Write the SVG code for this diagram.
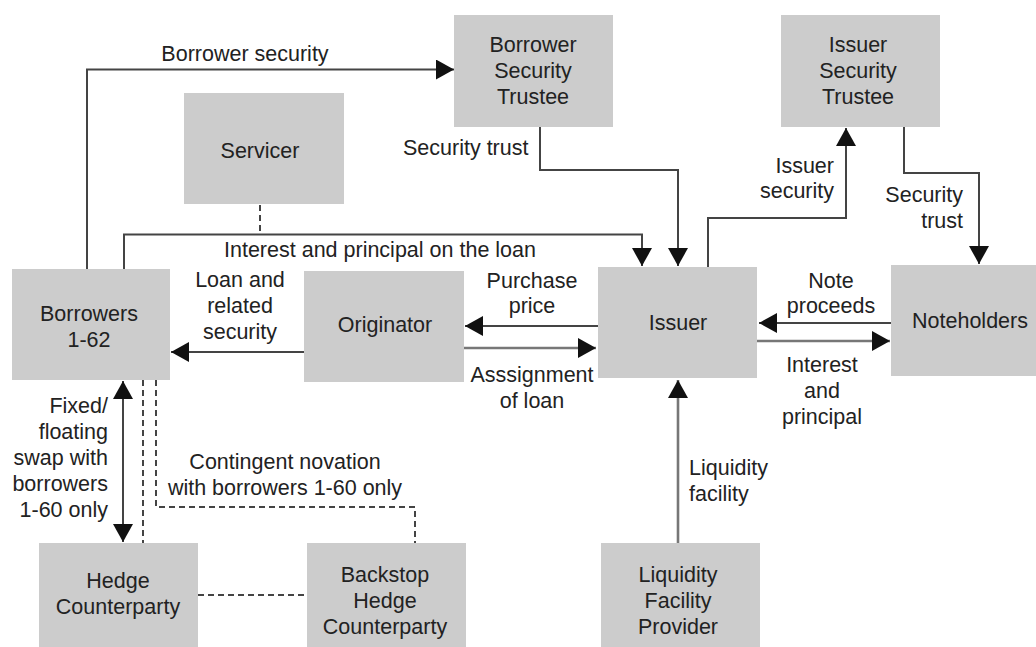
<svg xmlns="http://www.w3.org/2000/svg" width="1036" height="647" viewBox="0 0 1036 647">
<defs>
<style>
.box{fill:#cccccc;}
.t{font-family:"Liberation Sans",Arial,sans-serif;font-size:21.5px;fill:#222;}
.c{text-anchor:middle;}
.e{text-anchor:end;}
.ln{fill:none;stroke:#444;stroke-width:2;}
.lt{fill:none;stroke:#777;stroke-width:2.6;}
.ds{fill:none;stroke:#444;stroke-width:2;stroke-dasharray:6 4;}
.ar{marker-end:url(#ah);}
</style>
<marker id="ah" markerUnits="userSpaceOnUse" markerWidth="20" markerHeight="22" refX="18" refY="10" orient="auto" viewBox="0 0 20 22">
<path d="M0,0 L18,10 L0,20 z" fill="#111"/>
</marker>
<marker id="ahs" markerUnits="userSpaceOnUse" markerWidth="20" markerHeight="22" refX="18" refY="10" orient="auto-start-reverse" viewBox="0 0 20 22">
<path d="M0,0 L18,10 L0,20 z" fill="#111"/>
</marker>
</defs>
<rect width="1036" height="647" fill="#fff"/>

<g id="bst"><rect class="box" x="454" y="15" width="159" height="112"/>
<text class="t c" x="533" y="52">Borrower</text><text class="t c" x="533" y="78">Security</text><text class="t c" x="533" y="104">Trustee</text></g>
<g id="servicer"><rect class="box" x="184" y="93" width="160" height="111"/>
<text class="t c" x="260" y="158">Servicer</text></g>
<g id="ist"><rect class="box" x="781" y="15" width="159" height="112"/>
<text class="t c" x="858" y="52">Issuer</text><text class="t c" x="858" y="78">Security</text><text class="t c" x="858" y="104">Trustee</text></g>
<g id="borrowers"><rect class="box" x="12" y="269" width="158" height="111"/>
<text class="t c" x="89" y="321">Borrowers</text><text class="t c" x="89" y="347">1-62</text></g>
<g id="originator"><rect class="box" x="304" y="271" width="160" height="111"/>
<text class="t c" x="385" y="332">Originator</text></g>
<g id="issuer"><rect class="box" x="598" y="267" width="159" height="111"/>
<text class="t c" x="678" y="330">Issuer</text></g>
<g id="noteholders"><rect class="box" x="891" y="265" width="159" height="111"/>
<text class="t c" x="970" y="328">Noteholders</text></g>
<g id="hedge"><rect class="box" x="39" y="543" width="159" height="111"/>
<text class="t c" x="118" y="588">Hedge</text><text class="t c" x="118" y="614">Counterparty</text></g>
<g id="backstop"><rect class="box" x="307" y="543" width="159" height="111"/>
<text class="t c" x="385" y="582">Backstop</text><text class="t c" x="385" y="608">Hedge</text><text class="t c" x="385" y="634">Counterparty</text></g>
<g id="lfp"><rect class="box" x="601" y="543" width="159" height="111"/>
<text class="t c" x="678" y="582">Liquidity</text><text class="t c" x="678" y="608">Facility</text><text class="t c" x="678" y="634">Provider</text></g>

<g id="connectors">
<path class="ln ar" d="M87,269 V69.5 H454"/>
<path class="ln ar" d="M540,127 V170 H678 V266"/>
<path class="ds" d="M260,205 V234"/>
<path class="ln ar" d="M124,269 V234.5 H642 V266"/>
<path class="ln ar" d="M708,267 V218 H846 V128"/>
<path class="ln ar" d="M904,127 V173 H979 V264"/>
<path class="ln ar" d="M891,323 H759"/>
<path class="lt ar" d="M757,341 H890"/>
<path class="ln ar" d="M598,326 H465"/>
<path class="lt ar" d="M464,348 H596"/>
<path class="ln ar" d="M304,352 H171"/>
<path class="lt ar" d="M678,543 V380"/>
<path class="ln" d="M123,381 V542" marker-start="url(#ahs)" marker-end="url(#ahs)"/>
<path class="ds" d="M143,380 V543"/>
<path class="ds" d="M156,380 V507 H415 V543"/>
<path class="ds" d="M198,595 H307"/>
</g>

<g id="labels">
<text class="t c" x="245" y="61">Borrower security</text>
<text class="t" x="403" y="155">Security trust</text>
<text class="t" x="224" y="257">Interest and principal on the loan</text>
<text class="t c" x="240" y="287">Loan and</text><text class="t c" x="240" y="313">related</text><text class="t c" x="240" y="339">security</text>
<text class="t c" x="532" y="288">Purchase</text><text class="t c" x="532" y="313">price</text>
<text class="t c" x="532" y="382">Asssignment</text><text class="t c" x="532" y="408">of loan</text>
<text class="t e" x="834" y="173">Issuer</text><text class="t e" x="834" y="198">security</text>
<text class="t e" x="963" y="202">Security</text><text class="t e" x="963" y="228">trust</text>
<text class="t c" x="831" y="288">Note</text><text class="t c" x="831" y="313">proceeds</text>
<text class="t c" x="822" y="372">Interest</text><text class="t c" x="822" y="398">and</text><text class="t c" x="822" y="424">principal</text>
<text class="t" x="689" y="475">Liquidity</text><text class="t" x="689" y="501">facility</text>
<text class="t e" x="108" y="413">Fixed/</text><text class="t e" x="108" y="439">floating</text><text class="t e" x="108" y="465">swap with</text><text class="t e" x="108" y="491">borrowers</text><text class="t e" x="108" y="517">1-60 only</text>
<text class="t c" x="285" y="469">Contingent novation</text><text class="t c" x="285" y="495">with borrowers 1-60 only</text>
</g>
</svg>
